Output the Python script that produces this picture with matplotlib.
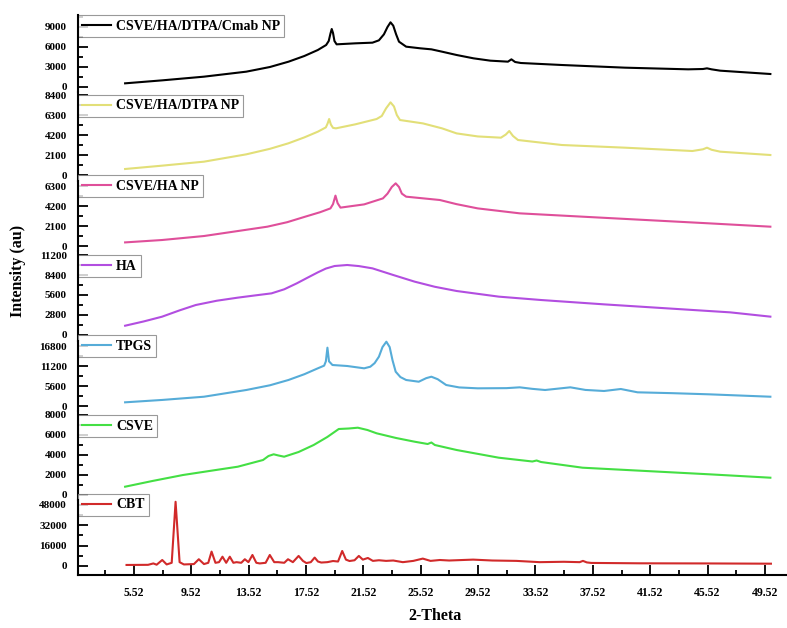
import matplotlib
matplotlib.use('Agg')
import matplotlib.pyplot as plt
import matplotlib.transforms as mtransforms
from matplotlib.lines import Line2D
from matplotlib.ticker import MultipleLocator, FixedLocator
import numpy as np

plt.rcParams['font.family'] = ['Liberation Serif', 'DejaVu Serif']
plt.rcParams['font.weight'] = 'bold'

labels = ['CSVE/HA/DTPA/Cmab NP', 'CSVE/HA/DTPA NP', 'CSVE/HA NP', 'HA', 'TPGS', 'CSVE', 'CBT']
colors = ['#000000', '#e2df78', '#df4f9a', '#b24ee0', '#56acd8', '#44df44', '#d12a2a']

# XRD traces, 2-theta (deg) vs intensity (au)
bk_x = [4.9, 7.5, 10.4, 13.35, 15.0, 16.3, 17.4, 18.34, 18.92, 19.1, 19.22, 19.31, 19.4, 19.5, 19.65, 20.95,
        22.15, 22.6, 22.95, 23.2, 23.41, 23.6, 23.8, 24.0, 24.5, 25.5, 26.26, 27.0, 28.02, 29.2, 30.37, 31.6,
        31.84, 32.1, 32.5, 35.36, 39.76, 44.17, 45.2, 45.48, 45.8, 46.4, 49.9]
bk_y = [550, 1000, 1550, 2300, 3000, 3800, 4650, 5550, 6300, 6900, 8000, 8700, 8100, 6900, 6400, 6550,
        6650, 7000, 7900, 9000, 9700, 9200, 7900, 6800, 6050, 5800, 5650, 5300, 4800, 4300, 3950, 3800,
        4150, 3750, 3600, 3300, 2900, 2650, 2700, 2800, 2650, 2450, 1950]

ye_x = [4.9, 7.47, 10.4, 13.35, 15.0, 16.29, 17.4, 18.34, 18.9, 19.02, 19.13, 19.25, 19.4, 19.6, 20.95, 22.44,
        22.8, 23.1, 23.41, 23.65, 23.85, 24.07, 25.67, 27.0, 28.02, 29.5, 31.11, 31.45, 31.69, 31.95, 32.3,
        35.36, 39.76, 44.46, 45.2, 45.48, 45.8, 46.4, 49.9]
ye_y = [630, 980, 1400, 2170, 2750, 3330, 3950, 4550, 5000, 5400, 5880, 5300, 4950, 4900, 5320, 5880,
        6200, 7000, 7630, 7200, 6300, 5775, 5420, 4900, 4370, 4050, 3920, 4250, 4620, 4100, 3675,
        3150, 2870, 2520, 2700, 2870, 2650, 2450, 2100]

pk_x = [4.9, 7.47, 10.4, 14.82, 16.2, 17.46, 18.5, 19.22, 19.4, 19.57, 19.72, 19.92, 21.57, 22.88, 23.2, 23.5,
        23.77, 24.0, 24.2, 24.5, 26.85, 28.0, 29.49, 32.42, 36.8, 41.22, 45.63, 49.9]
pk_y = [380, 630, 1050, 2030, 2500, 3080, 3550, 3950, 4400, 5290, 4500, 4030, 4370, 5000, 5500, 6200,
        6580, 6200, 5500, 5180, 4830, 4400, 3950, 3430, 3080, 2730, 2380, 2030]

ha_x = [4.9, 6.2, 7.47, 8.7, 9.83, 11.3, 12.76, 14.0, 15.11, 16.0, 16.87, 17.6, 18.34, 18.9, 19.51, 20.39,
        21.2, 22.15, 23.6, 25.09, 26.5, 28.02, 30.96, 33.9, 38.3, 42.7, 47.1, 49.9]
ha_y = [1300, 1900, 2560, 3450, 4200, 4800, 5230, 5550, 5830, 6400, 7230, 8000, 8770, 9300, 9660, 9800,
        9650, 9330, 8400, 7470, 6750, 6160, 5370, 4900, 4290, 3730, 3170, 2570]

tp_x = [4.9, 7.5, 10.4, 13.35, 15.0, 16.29, 17.4, 18.34, 18.78, 18.9, 19.01, 19.12, 19.36, 20.39, 21.57, 22.0,
        22.3, 22.6, 22.85, 23.12, 23.35, 23.55, 23.77, 24.1, 24.5, 25.38, 25.9, 26.26, 26.7, 27.29, 28.2, 29.49,
        31.5, 32.42, 33.3, 34.19, 35.95, 37.0, 38.3, 39.47, 40.64, 43.0, 45.63, 49.9]
tp_y = [1030, 1700, 2600, 4480, 5800, 7280, 8900, 10550, 11300, 12500, 16330, 12500, 11480, 11200, 10550, 11000,
        12000, 13800, 16500, 18000, 16500, 12800, 9600, 8100, 7280, 6800, 7800, 8200, 7500, 5880, 5200, 4950,
        5000, 5230, 4800, 4480, 5230, 4500, 4200, 4760, 3830, 3600, 3270, 2600]

cs_x = [4.9, 6.8, 8.94, 11.0, 12.76, 14.52, 14.9, 15.26, 15.6, 15.99, 17.0, 18.05, 19.0, 19.8, 20.5, 21.13,
        21.8, 22.44, 23.8, 25.09, 26.0, 26.26, 26.5, 28.02, 30.96, 33.3, 33.6, 33.9, 36.8, 41.22, 45.63, 49.9]
cs_y = [830, 1400, 2000, 2450, 2830, 3500, 3900, 4070, 3950, 3830, 4300, 5000, 5800, 6600, 6650, 6730,
        6500, 6170, 5700, 5330, 5100, 5250, 5000, 4500, 3730, 3350, 3450, 3300, 2730, 2400, 2070, 1730]

cb_x = [5.0, 6.5, 6.87, 7.1, 7.49, 7.8, 8.15, 8.42, 8.7, 9.0, 9.7, 10.04, 10.4, 10.7, 10.93, 11.2, 11.45, 11.69,
        11.95, 12.2, 12.45, 12.67, 13.0, 13.25, 13.5, 13.78, 14.05, 14.29, 14.7, 14.99, 15.3, 15.57, 16.0, 16.26,
        16.6, 17.0, 17.3, 17.54, 17.85, 18.12, 18.35, 18.58, 19.0, 19.4, 19.75, 20.04, 20.3, 20.55, 20.9, 21.2,
        21.48, 21.83, 22.18, 22.6, 23.1, 23.6, 24.27, 25.0, 25.66, 26.2, 26.85, 27.5, 29.17, 30.5, 32.19, 33.81,
        35.5, 36.6, 36.83, 37.1, 37.41, 40.77, 45.41, 49.94]
cb_y = [800, 900, 2000, 1000, 4700, 1200, 2500, 50500, 3000, 1200, 1500, 5300, 1500, 2500, 11300, 2500, 3000, 7300,
        2500, 7300, 2500, 3000, 2500, 5300, 3000, 8650, 2500, 2000, 2500, 8650, 3000, 3000, 2500, 5300,
        3000, 7900, 4000, 2300, 3000, 6600, 3500, 2700, 3000, 3900, 3500, 11800, 5000, 3900, 4500, 7900,
        5000, 6300, 4000, 4500, 4000, 4300, 3000, 4000, 5800, 4000, 4700, 4300, 5000, 4300, 4000, 3000,
        3300, 3000, 4000, 2800, 2400, 2100, 2000, 1800]

series_x = [bk_x, ye_x, pk_x, ha_x, tp_x, cs_x, cb_x]
series_y = [bk_y, ye_y, pk_y, ha_y, tp_y, cs_y, cb_y]

tick_steps = [3000, 2100, 2100, 2800, 5600, 2000, 16000]
tick_tops = [9000, 8400, 6300, 11200, 16800, 8000, 48000]

# panel layout
ylims = [(-675, 10800), (-630, 8770), (-470, 6825), (-770, 11830), (-1260, 18340), (-500, 8450), (-7100, 51900)]
heights = [76.5, 89.5, 69.5, 90, 70, 89.5, 75]
legend_y = [9150, 7250, 6300, 9660, 16800, 6900, 48000]

fig = plt.figure(figsize=(7.87, 6.28), dpi=100)
gs = fig.add_gridspec(7, 1, height_ratios=heights, hspace=0,
                      left=78 / 787, right=1.0, bottom=1 - 575 / 628, top=1 - 15 / 628)

for i in range(7):
    ax = fig.add_subplot(gs[i])
    ax.plot(series_x[i], series_y[i], color=colors[i], lw=1.5, clip_on=False, solid_joinstyle='round')
    ax.set_xlim(1.615, 51.06)
    ax.set_ylim(*ylims[i])
    ax.set_yticks(np.arange(0, tick_tops[i] + 1, tick_steps[i]))
    ax.yaxis.set_minor_locator(MultipleLocator(tick_steps[i] / 2))
    ax.tick_params(axis='y', which='major', direction='in', length=7, width=1.3, labelsize=8, pad=8)
    ax.tick_params(axis='y', which='minor', direction='in', length=3.5, width=1.3)
    for s in ['top', 'right']:
        ax.spines[s].set_visible(False)
    ax.spines['left'].set_linewidth(1.5)
    ax.spines['left'].set_zorder(6)
    if i < 6:
        ax.spines['bottom'].set_visible(False)
        ax.tick_params(axis='x', which='both', bottom=False, labelbottom=False)
    else:
        ax.spines['bottom'].set_linewidth(1.5)
        ax.set_xticks(np.arange(5.52, 50, 4))
        ax.set_xticklabels([f'{v:.2f}' for v in np.arange(5.52, 50, 4)])
        ax.xaxis.set_minor_locator(FixedLocator(np.arange(3.52, 51, 4)))
        ax.tick_params(axis='x', which='major', direction='in', length=7, width=1.3, labelsize=8.5, pad=9)
        ax.tick_params(axis='x', which='minor', direction='in', length=3.5, width=1.3)

    trans = mtransforms.blended_transform_factory(ax.transAxes, ax.transData)
    handle = Line2D([], [], color=colors[i], lw=1.5)
    leg = ax.legend([handle], [labels[i]], loc='center left', bbox_to_anchor=(0, legend_y[i]),
                    bbox_transform=trans, frameon=True, fancybox=False, edgecolor='#808080',
                    borderaxespad=0, borderpad=0.3, handlelength=2.1, handletextpad=0.35,
                    prop={'weight': 'bold', 'size': 10})
    leg.get_frame().set_linewidth(0.8)
    leg.set_zorder(5)

fig.text(18 / 787, 1 - 271 / 628, 'Intensity (au)', rotation=90, ha='center', va='center',
         fontsize=11.5, weight='bold')
fig.text(435 / 787, 1 - 616 / 628, '2-Theta', ha='center', va='center', fontsize=11.5, weight='bold')

fig.savefig('out.png', dpi=100)
